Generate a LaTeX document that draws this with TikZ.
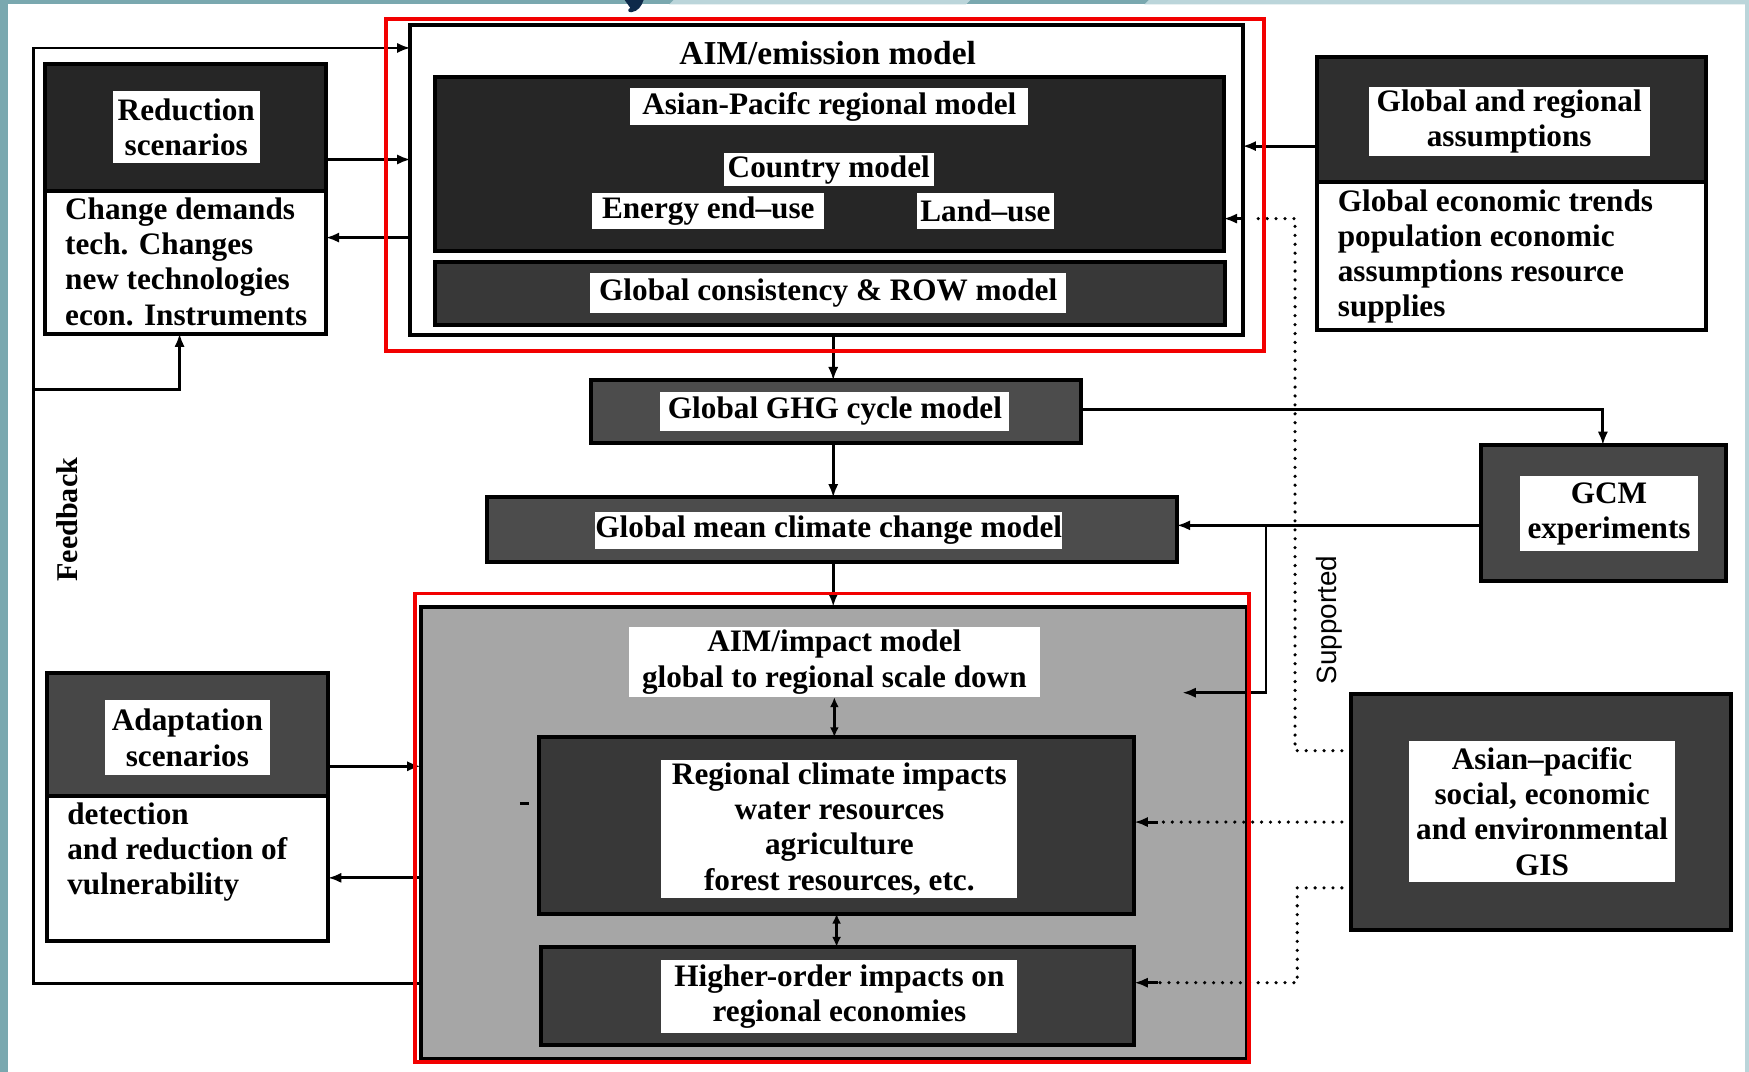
\documentclass[tikz,border=0pt]{standalone}
\usepackage{fontspec}
\setmainfont{Liberation Serif}
\setsansfont{Liberation Sans}
\usetikzlibrary{arrows.meta}
\definecolor{teal1}{HTML}{7AA8AF}
\definecolor{teal2}{HTML}{BBD5DA}
\definecolor{navy1}{HTML}{0E2A4A}
\definecolor{redline}{HTML}{F20000}
\newcommand\txt{\fontsize{14}{15.8}\selectfont\bfseries}
\newcommand\rbox[7]{\node[#2,minimum width={(#5-#3)*0.5pt},minimum height={(#6-#4)*0.5pt}] (#1) at ({(#3+#5)/2},{(#4+#6)/2}) {#7};}
\tikzset{
  base/.style={rectangle, inner sep=0pt, outer sep=0pt},
  frame/.style={base, draw=black, line width=1.8pt},
  dkbox/.style={frame, fill=black!#1},
  lbl/.style={base, fill=white, align=center, font=\txt},
  bodytxt/.style={inner sep=0pt, align=left, font=\txt},
  conn/.style={line width=1.3pt, draw=black},
  arr/.style={conn, -{Latex[length=6pt,width=4.6pt]}},
  dbl/.style={conn, {Latex[length=4.5pt,width=4pt]}-{Latex[length=4.5pt,width=4pt]}},
  dots/.style={line width=1.6pt, line cap=round, dash pattern=on 0pt off 4pt},
  redbox/.style={draw=redline, line width=1.7pt},
}
\begin{document}
\begin{tikzpicture}[x=0.5pt,y=-0.5pt]
% background
\path[use as bounding box, fill=white] (0,0) rectangle (1568,961);
\fill[teal1] (0,0) rectangle (7,961);
\fill[teal1] (0,0) rectangle (1568,4);
\fill[teal2] (604,0) -- (870,0) -- (866,4) -- (600,4) -- cycle;
\fill[teal2] (1030,0) -- (1568,0) -- (1568,4) -- (1026,4) -- cycle;
\fill[teal2] (1564,0) rectangle (1568,961);
\fill[navy1] (560,0) -- (577,0) .. controls (575,6) and (572,10) .. (566,11) .. controls (563,11) and (562,9) .. (565,7) -- cycle;

% AIM/emission model
\rbox{emis}{frame, fill=white}{368}{22}{1114}{300}{}
\node[font=\fontsize{15}{17}\selectfont\bfseries] (emtitle) at (742,48) {AIM/emission model};
\rbox{ap}{dkbox=85}{390}{69}{1097}{225}{}
\rbox{aplbl}{lbl}{565}{79}{922}{112}{Asian-Pacifc regional model}
\rbox{ctry}{lbl}{649}{137}{837}{167}{Country model}
\rbox{energy}{lbl}{531}{173}{739}{205}{Energy end--use}
\rbox{land}{lbl}{822}{173}{945}{205}{Land--use}
\rbox{row}{dkbox=78}{390}{235}{1098}{291}{}
\rbox{rowlbl}{lbl}{529}{245}{956}{281}{Global consistency \& ROW model}

% Reduction scenarios
\rbox{redu}{frame, fill=white}{40}{57}{292}{299}{}
\rbox{reduhd}{dkbox=85}{40}{57}{292}{171}{}
\rbox{redulbl}{lbl}{101}{82}{233}{146}{Reduction\\scenarios}
\node[bodytxt, anchor=west] (redutxt) at (58,234.5) {Change demands\\tech. Changes\\new technologies\\econ. Instruments};

% Global and regional assumptions
\rbox{glob}{frame, fill=white}{1181}{51}{1529}{296}{}
\rbox{globhd}{dkbox=82}{1181}{51}{1529}{163}{}
\rbox{globlbl}{lbl}{1227}{78}{1479}{140}{Global and regional\\assumptions}
\node[bodytxt, anchor=west] (globtxt) at (1199,230) {Global economic trends\\population economic\\assumptions resource\\supplies};

% GHG / mean / GCM
\rbox{ghg}{dkbox=70}{530}{341}{969}{397}{}
\rbox{ghglbl}{lbl}{592}{351}{905}{386}{Global GHG cycle model}
\rbox{gmean}{dkbox=70}{437}{446}{1055}{504}{}
\rbox{gmeanlbl}{lbl}{534}{459}{952}{492}{Global mean climate change model}
\rbox{gcm}{dkbox=72}{1328}{399}{1547}{521}{}
\rbox{gcmlbl}{lbl}{1363}{427}{1522}{494}{GCM\\experiments}

% AIM/impact model
\rbox{impact}{frame, fill=black!35}{377}{544}{1118}{949}{}
\rbox{implbl}{lbl}{564}{562}{932}{625}{AIM/impact model\\global to regional scale down}
\rbox{regl}{dkbox=78}{483}{661}{1017}{819}{}
\rbox{regllbl}{lbl}{593}{681}{912}{805}{Regional climate impacts\\water resources\\agriculture\\forest resources, etc.}
\rbox{high}{dkbox=76}{485}{849}{1017}{937}{}
\rbox{highlbl}{lbl}{593}{861}{912}{926}{Higher-order impacts on\\regional economies}

% Adaptation scenarios
\rbox{adap}{frame, fill=white}{42}{603}{294}{844}{}
\rbox{adaphd}{dkbox=72}{42}{603}{294}{714}{}
\rbox{adaplbl}{lbl}{94}{628}{242}{695}{Adaptation\\scenarios}
\node[bodytxt, anchor=west] (adaptxt) at (60,764) {detection\\and reduction of\\vulnerability};

% GIS
\rbox{gis}{dkbox=76}{1211}{622}{1552}{834}{}
\rbox{gislbl}{lbl}{1263}{664}{1502}{791}{Asian--pacific\\social, economic\\and environmental\\GIS}

% side labels
\node[rotate=90, font=\fontsize{13.5}{15}\selectfont\bfseries] (fblbl) at (60,466) {Feedback};
\node[rotate=90, font=\sffamily\fontsize{12.5}{14}\selectfont] (suplbl) at (1192,556) {Supported};

% connectors
\coordinate (fbtl) at (30,43);
\coordinate (fbbl) at (30,882);
\coordinate (fbj) at (30,349);
\coordinate (reduin) at (161,299);
\draw[arr] (impact.west |- fbbl) -- (fbbl) -- (fbtl) -- (emis.west |- fbtl);
\draw[arr] (fbj) -| (reduin);
\draw[arr] (redu.east |- 0,143) -- (emis.west |- 0,143);
\draw[arr] (emis.west |- 0,213) -- (redu.east |- 0,213);
\draw[arr] (glob.west |- 0,131) -- (emis.east |- 0,131);
\coordinate (supend) at (1124,196);
\draw[dots] (gis.west |- 0,673) -| (1161,196) -- (supend);
\draw[arr] (emis.east |- 0,196) -- (ap.east |- 0,196);
\draw[arr] (emis.south -| 747,0) -- (ghg.north -| 747,0);
\draw[arr] (ghg.south -| 747,0) -- (gmean.north -| 747,0);
\draw[arr] (gmean.south -| 747,0) -- (impact.north -| 747,0);
\draw[arr] (ghg.east |- 0,367) -| (gcm.north -| 1437,0);
\draw[arr] (gcm.west |- 0,471) -- (gmean.east |- 0,471);
\coordinate (br) at (1135,471);
\coordinate (impin) at (1060,621);
\draw[arr] (br) |- (impin);
\draw[dbl] (implbl.south -| 748,0) -- (regl.north -| 748,0);
\draw[dbl] (regl.south -| 750,0) -- (high.north -| 750,0);
\draw[arr] (adap.east |- 0,687) -- (impact.west |- 0,687);
\draw[arr] (impact.west |- 0,787) -- (adap.east |- 0,787);
\coordinate (rgd) at (1038,737);
\coordinate (hgd) at (1038,881);
\draw[dots] (gis.west |- 0,737) -- (rgd);
\draw[arr] (rgd) -- (regl.east |- rgd);
\draw[dots] (gis.west |- 0,796) -| (1163,881) -- (hgd);
\draw[arr] (hgd) -- (high.east |- hgd);
\coordinate (tk1) at (466,720);
\coordinate (tk2) at (474,720);
\draw[conn] (tk1) -- (tk2);

% red highlight frames
\draw[redbox] (346,17) rectangle (1133,315);
\draw[redbox] (372,532) rectangle (1120,952);
\end{tikzpicture}
\end{document}
